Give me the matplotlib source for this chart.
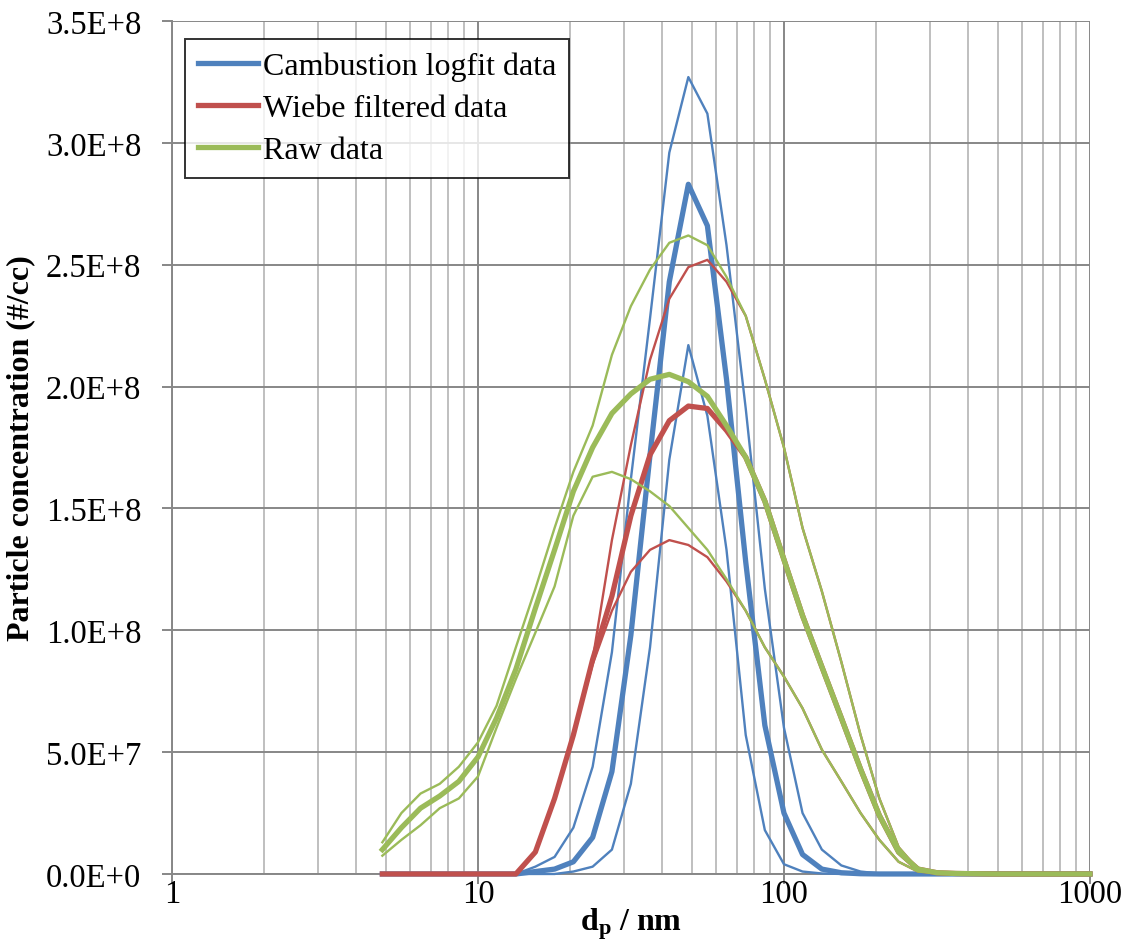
import numpy as np
import matplotlib
matplotlib.use('Agg')
import matplotlib.pyplot as plt
import matplotlib.ticker as ticker
from matplotlib.lines import Line2D

plt.rcParams['font.family'] = ['Liberation Serif', 'DejaVu Serif']
plt.rcParams['mathtext.fontset'] = 'custom'
plt.rcParams['mathtext.rm'] = 'Liberation Serif'
plt.rcParams['mathtext.bf'] = 'Liberation Serif:bold'

# particle diameter bins (nm)
dp = [4.87, 5.62, 6.49, 7.50, 8.66, 10.0, 11.5, 13.3, 15.4, 17.8, 20.5, 23.7, 27.4,
      31.6, 36.5, 42.2, 48.7, 56.2, 64.9, 75.0, 86.6, 100, 115, 133, 154, 178, 205,
      237, 274, 316, 365, 422, 487, 562, 649, 750, 866, 1000]

# concentrations in units of 1E+8 #/cc
camb_mid = [0, 0, 0, 0, 0, 0, 0, 0, 0.01, 0.02, 0.05, 0.15, 0.42, 0.98, 1.72, 2.43, 2.83,
            2.66, 2.03, 1.28, 0.61, 0.25, 0.08, 0.02, 0.005, 0.001, 0, 0, 0, 0, 0, 0, 0,
            0, 0, 0, 0, 0]
camb_hi = [0, 0, 0, 0, 0, 0, 0, 0, 0.03, 0.07, 0.19, 0.44, 0.91, 1.62, 2.28, 2.96, 3.27,
           3.12, 2.58, 1.91, 1.17, 0.60, 0.25, 0.10, 0.035, 0.01, 0.002, 0, 0, 0, 0, 0, 0,
           0, 0, 0, 0, 0]
camb_lo = [0, 0, 0, 0, 0, 0, 0, 0, 0, 0, 0.01, 0.03, 0.10, 0.37, 0.93, 1.70, 2.17,
           1.88, 1.33, 0.57, 0.18, 0.04, 0.01, 0.002, 0, 0, 0, 0, 0, 0, 0, 0, 0,
           0, 0, 0, 0, 0]

wiebe_mid = [0, 0, 0, 0, 0, 0, 0, 0, 0.09, 0.31, 0.57, 0.88, 1.14, 1.47, 1.72, 1.86, 1.92,
             1.91, 1.82, 1.71, 1.53, 1.29, 1.06, 0.85, 0.64, 0.43, 0.24, 0.09, 0.02, 0.005,
             0.002, 0.001, 0, 0, 0, 0, 0, 0]
wiebe_hi = [0, 0, 0, 0, 0, 0, 0, 0, 0.09, 0.31, 0.57, 0.88, 1.37, 1.76, 2.11, 2.36, 2.49,
            2.52, 2.43, 2.29, 2.03, 1.75, 1.42, 1.16, 0.87, 0.57, 0.31, 0.11, 0.02, 0.005,
            0.002, 0.001, 0, 0, 0, 0, 0, 0]
wiebe_lo = [0, 0, 0, 0, 0, 0, 0, 0, 0.09, 0.31, 0.57, 0.86, 1.08, 1.24, 1.33, 1.37, 1.35,
            1.30, 1.20, 1.08, 0.93, 0.81, 0.68, 0.51, 0.38, 0.25, 0.14, 0.05, 0.01, 0.003,
            0.001, 0.001, 0, 0, 0, 0, 0, 0]

raw_mid = [0.10, 0.19, 0.27, 0.32, 0.38, 0.48, 0.64, 0.84, 1.09, 1.33, 1.57, 1.75, 1.89,
           1.97, 2.03, 2.05, 2.02, 1.96, 1.84, 1.71, 1.53, 1.29, 1.06, 0.85, 0.64, 0.43,
           0.24, 0.09, 0.02, 0.005, 0.002, 0.001, 0, 0, 0, 0, 0, 0]
raw_hi = [0.13, 0.25, 0.33, 0.37, 0.44, 0.54, 0.69, 0.93, 1.17, 1.42, 1.65, 1.84, 2.13,
          2.33, 2.48, 2.59, 2.62, 2.58, 2.45, 2.29, 2.03, 1.75, 1.42, 1.16, 0.87, 0.57,
          0.31, 0.11, 0.02, 0.005, 0.002, 0.001, 0, 0, 0, 0, 0, 0]
raw_lo = [0.075, 0.14, 0.20, 0.27, 0.31, 0.40, 0.60, 0.80, 0.99, 1.18, 1.47, 1.63, 1.65,
          1.62, 1.57, 1.51, 1.42, 1.33, 1.21, 1.08, 0.93, 0.81, 0.68, 0.51, 0.38, 0.25,
          0.14, 0.05, 0.01, 0.003, 0.001, 0.001, 0, 0, 0, 0, 0, 0]

labels = ['Cambustion logfit data', 'Wiebe filtered data', 'Raw data']
colors = ['#4F81BD', '#C0504D', '#9BBB59']

fig = plt.figure(figsize=(11.33, 9.45), dpi=100)
ax = fig.add_axes([0.1518, 0.0741, 0.8102, 0.9026])

x = np.array(dp)
groups = [(camb_lo, camb_hi, camb_mid), (wiebe_lo, wiebe_hi, wiebe_mid),
          (raw_lo, raw_hi, raw_mid)]
for (lo, hi, mid), c in zip(groups, colors):
    for s in (lo, hi):
        ax.plot(x, np.array(s) * 1e8, color=c, lw=1.7, clip_on=False, zorder=3)
    ax.plot(x, np.array(mid) * 1e8, color=c, lw=3.8, clip_on=False, zorder=3)

ax.set_xscale('log')
ax.set_xlim(1, 1000)
ax.set_ylim(0, 3.5e8)
ax.set_yticks(np.arange(0, 3.51e8, 0.5e8))
ax.xaxis.set_major_locator(ticker.LogLocator(base=10))
ax.xaxis.set_minor_locator(ticker.LogLocator(base=10, subs=np.arange(2, 10)))
ax.xaxis.set_major_formatter(ticker.FuncFormatter(lambda v, p: '%d' % round(v)))
ax.xaxis.set_minor_formatter(ticker.NullFormatter())


def sci(v, pos):
    if v == 0:
        return '0.0E+0'
    e = int(np.floor(np.log10(v) + 1e-9))
    return '%.1fE+%d' % (v / 10 ** e, e)


ax.yaxis.set_major_formatter(ticker.FuncFormatter(sci))

ax.grid(True, which='major', color='#878787', lw=1.4, zorder=0)
ax.grid(True, which='minor', axis='x', color='#BFBFBF', lw=1.4, zorder=0)
ax.set_axisbelow(True)
for side in ('top', 'right'):
    ax.spines[side].set_visible(False)
for side in ('left', 'bottom'):
    ax.spines[side].set_color('#878787')
    ax.spines[side].set_linewidth(1.4)
ax.tick_params(which='major', direction='out', length=7, width=1.4, color='#878787',
               labelsize=23.5)
ax.tick_params(axis='y', pad=15)
ax.tick_params(axis='x', pad=-4)
ax.tick_params(which='minor', length=0)

ax.set_ylabel('Particle concentration (#/cc)', fontsize=23, fontweight='bold', labelpad=8)
ax.set_xlabel(r'$\mathbf{d_p}$ / nm', fontsize=23, fontweight='bold', labelpad=-2)

handles = [Line2D([], [], color=c, lw=3.8) for c in colors]
leg = ax.legend(handles, labels, loc='upper left', bbox_to_anchor=(0.014, 0.979),
                fontsize=23, frameon=True, fancybox=False, handlelength=1.9,
                handletextpad=0.15, borderpad=0.4, labelspacing=0.4, borderaxespad=0)
leg.get_frame().set_edgecolor('black')
leg.get_frame().set_linewidth(1.4)
leg.set_zorder(5)

plt.savefig('out.png', dpi=100)
